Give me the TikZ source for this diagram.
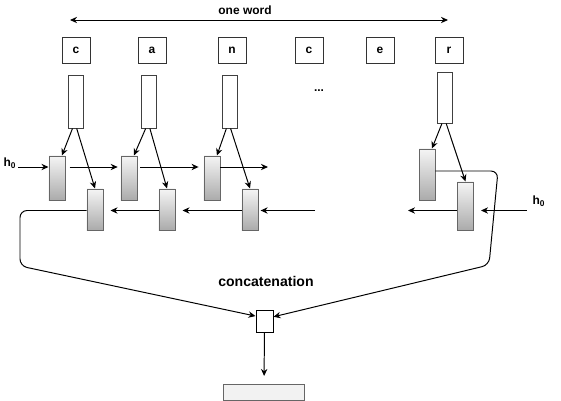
\documentclass[tikz,border=0pt]{standalone}
\usepackage{fontspec}
\setmainfont{Liberation Sans}
\usetikzlibrary{positioning}
\usetikzlibrary{arrows.meta}
\tikzstyle{charBox} = [rectangle, draw=black!80, minimum width=0.7cm, minimum height=0.65cm, inner sep=0, font=\fontsize{8.5}{9}\selectfont\bfseries]
\tikzstyle{embed} = [rectangle, draw=black!75, fill=white, minimum width=0.375cm, minimum height=1.3cm, inner sep=0]
\tikzstyle{lstmCell} = [rectangle, draw=black!60, top color=black!4, bottom color=black!33, minimum width=0.4cm, inner sep=0]
\tikzstyle{txtBold} = [inner sep=1pt, font=\fontsize{8.5}{10}\selectfont\bfseries]
\tikzstyle{concatBox} = [rectangle, draw=black, fill=white, minimum width=0.425cm, minimum height=0.55cm, inner sep=0]
\tikzstyle{outBox} = [rectangle, draw=black!60, fill=black!5, minimum width=2cm, minimum height=0.4cm, inner sep=0]

\begin{document}
\begin{tikzpicture}[x=0.025cm, y=-0.025cm, line width=0.7pt, >={Stealth[length=5pt, width=4.5pt]}]
    \useasboundingbox (0,0) rectangle (561,401);
    % the word
    \node (oneWord) at (245,10) [txtBold] {one word};
    \coordinate (wordL) at (70,20);
    \coordinate (wordR) at (448,20);
    \draw [<->] (wordL) -- (wordR);
    % characters
    \node (chC) at (76,50) [charBox] {c};
    \node (chA) at (152,50) [charBox] {a};
    \node (chN) at (232,50) [charBox] {n};
    \node (chC2) at (309,50) [charBox] {c};
    \node (chE) at (380,50) [charBox] {e};
    \node (chR) at (449,50) [charBox] {r};
    \node (dots) at (319,91) [txtBold] {...};
    % embeddings
    \node (embC) [below=0.3cm of chC, embed] {};
    \node (embA) [below=0.3cm of chA, xshift=-2pt, embed] {};
    \node (embN) [below=0.3cm of chN, xshift=-1.5pt, embed] {};
    \node (embR) [below=0.225cm of chR, xshift=-2.5pt, embed, minimum height=1.25cm] {};
    % forward cells
    \node (fwdC) at (57,178) [lstmCell, minimum height=1.1cm] {};
    \node (fwdA) at (129,178) [lstmCell, minimum height=1.1cm] {};
    \node (fwdN) at (212,178) [lstmCell, minimum height=1.1cm] {};
    \node (fwdR) at (427,174.5) [lstmCell, minimum height=1.275cm] {};
    % backward cells
    \node (bwdC) at (95,209.5) [lstmCell, minimum height=1.025cm] {};
    \node (bwdA) at (167,209.5) [lstmCell, minimum height=1.025cm] {};
    \node (bwdN) at (250,209.5) [lstmCell, minimum height=1.025cm] {};
    \node (bwdR) at (465.5,206) [lstmCell, minimum height=1.2cm] {};
    % embeddings into cells
    \foreach \e/\f/\b in {embC/fwdC/bwdC, embA/fwdA/bwdA, embN/fwdN/bwdN, embR/fwdR/bwdR} {
        \draw [->] ([xshift=-2.5pt]\e.south) -- ([xshift=3.5pt]\f.north);
        \draw [->] ([xshift=0.5pt]\e.south) -- (\b.north);
    }
    % forward direction
    \coordinate (fy) at (0,167);
    \node (h0L) at (10,163) [txtBold] {h\textsubscript{0}};
    \coordinate (fwdEnd) at (268,167);
    \draw [->] (h0L.east |- fy) -- (fwdC.west |- fy);
    \draw [->, shorten <=3pt, shorten >=2pt] (fwdC.east |- fy) -- (fwdA.west |- fy);
    \draw [->, shorten <=2pt, shorten >=3.5pt] (fwdA.east |- fy) -- (fwdN.west |- fy);
    \draw [->] (fwdN.east |- fy) -- (fwdEnd);
    % backward direction
    \coordinate (by) at (0,210.5);
    \coordinate (bwdStart) at (315,210.5);
    \coordinate (bwdEnd) at (408,210.5);
    \node (h0R) at (539,201) [txtBold] {h\textsubscript{0}};
    \draw [->, shorten >=1.5pt] (bwdStart) -- (bwdN.east |- by);
    \draw [->, shorten >=5pt] (bwdN.west |- by) -- (bwdA.east |- by);
    \draw [->, shorten >=5pt] (bwdA.west |- by) -- (bwdC.east |- by);
    \draw [->, shorten <=3pt, shorten >=5pt] (h0R.west |- by) -- (bwdR.east |- by);
    \draw [->] (bwdR.west |- by) -- (bwdEnd);
    % concatenation
    \node (catText) at (266,281) [txtBold, font=\fontsize{10}{12}\selectfont\bfseries] {concatenation};
    \node (cat) at (264.5,321) [concatBox] {};
    \node (out) at (264,392.5) [outBox] {};
    \draw [->, rounded corners=5pt] (bwdC.west |- by) -- (20,210.5) -- (20,266) -- ([yshift=3.5pt]cat.west);
    \draw [->, rounded corners=5pt] (fwdR.east |- 0,171) -- (498,171) -- (489,265) -- ([yshift=3pt]cat.east);
    \draw [->, shorten >=0.2cm] (cat) -- (out);
\end{tikzpicture}
\end{document}
